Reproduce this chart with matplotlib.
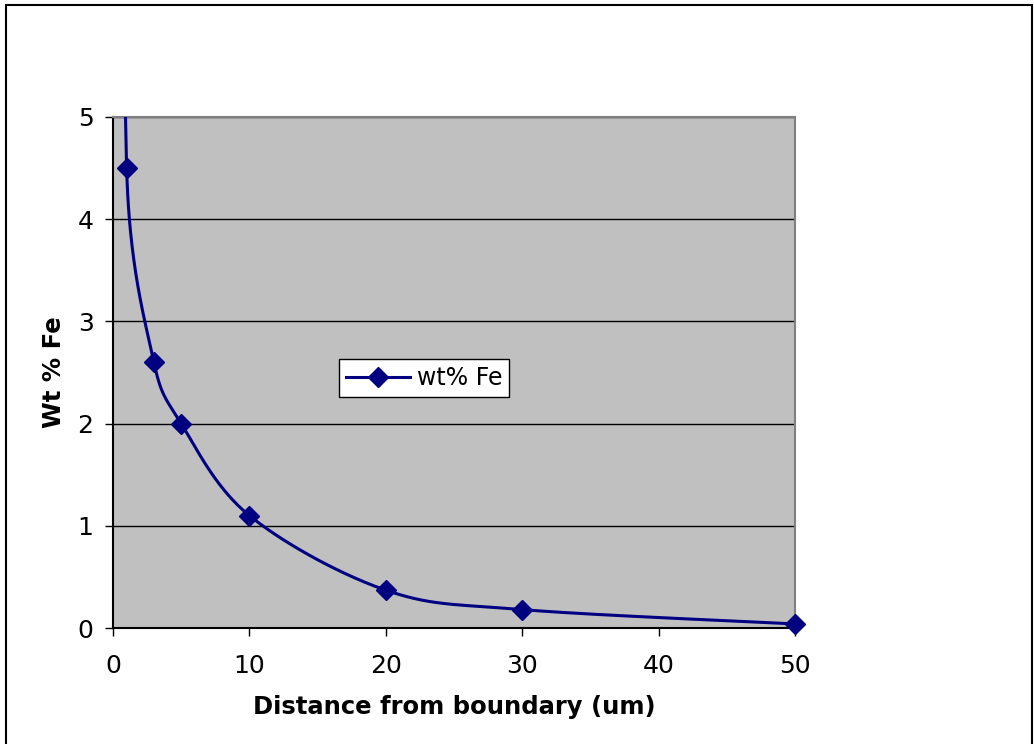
import numpy as np
import matplotlib.pyplot as plt
from matplotlib.patches import Rectangle

# data; first point lies above the plot (clipped)
distance = [0.5, 1, 3, 5, 10, 20, 30, 50]
wt_fe = [15.0, 4.5, 2.6, 2.0, 1.1, 0.37, 0.18, 0.04]


def excel_smooth(ax, x, y, n=80):
    # Excel-like smoothed line: bezier segments, control points 1/6 of the
    # neighbour chord, limited to half the segment length (in screen space)
    pts = ax.transData.transform(np.column_stack([x, y]))
    pts = np.vstack([pts[0], pts, pts[-1]])
    t = np.linspace(0, 1, n)[:, None]
    out = []
    for i in range(1, len(pts) - 2):
        p0, p1, p2, p3 = pts[i - 1], pts[i], pts[i + 1], pts[i + 2]
        d12 = np.hypot(*(p2 - p1))
        d02 = np.hypot(*(p2 - p0))
        d13 = np.hypot(*(p3 - p1))
        f0 = 1 / 6 if d02 / 6 < d12 / 2 else d12 / d02 / 2
        f3 = 1 / 6 if d13 / 6 < d12 / 2 else d12 / d13 / 2
        c1 = p1 + f0 * (p2 - p0)
        c2 = p2 - f3 * (p3 - p1)
        b = (1 - t) ** 3 * p1 + 3 * (1 - t) ** 2 * t * c1 \
            + 3 * (1 - t) * t ** 2 * c2 + t ** 3 * p2
        out.append(b)
    out = np.vstack(out)
    d = ax.transData.inverted().transform(out)
    return d[:, 0], d[:, 1]


fig = plt.figure(figsize=(10.34, 7.44), dpi=100)
ax = fig.add_axes([113 / 1034, 116 / 744, 682 / 1034, 511 / 744])
ax.set_facecolor('#C0C0C0')
ax.set_xlim(0, 50)
ax.set_ylim(0, 5)

sx, sy = excel_smooth(ax, distance, wt_fe)
ax.plot(sx, sy, color='#000080', linewidth=2.2, zorder=3)
ax.plot(distance, wt_fe, linestyle='none', marker='D', markersize=10,
        color='#000080', zorder=4, clip_on=False)
ax.plot([], [], color='#000080', linewidth=2.2, marker='D', markersize=10,
        label='wt% Fe')

ax.set_xticks([0, 10, 20, 30, 40, 50])
ax.set_yticks([0, 1, 2, 3, 4, 5])
ax.tick_params(labelsize=18, length=6, width=1, colors='black')
ax.tick_params(axis='y', pad=8)
ax.tick_params(axis='x', pad=13)
ax.yaxis.grid(True, color='black', linewidth=1)
ax.set_axisbelow(True)

for s in ['top', 'right']:
    ax.spines[s].set_color('#808080')
    ax.spines[s].set_linewidth(1.5)
for s in ['left', 'bottom']:
    ax.spines[s].set_color('black')
    ax.spines[s].set_linewidth(1.5)

ax.set_xlabel('Distance from boundary (um)', fontsize=17.5, fontweight='bold', labelpad=12)
ax.set_ylabel('Wt % Fe', fontsize=17.5, fontweight='bold', labelpad=8)

leg = ax.legend(loc='center', bbox_to_anchor=(0.456, 0.489), fontsize=17,
                fancybox=False, framealpha=1, edgecolor='black',
                handlelength=2.7, handletextpad=0.3, borderpad=0.3,
                borderaxespad=0)
leg.get_frame().set_linewidth(1)

fig.patches.append(Rectangle((6 / 1034, -0.05), 1026 / 1034, 1.05 - 5 / 744,
                             transform=fig.transFigure, fill=False,
                             edgecolor='black', linewidth=1.5))

fig.savefig('out.png', dpi=100)
